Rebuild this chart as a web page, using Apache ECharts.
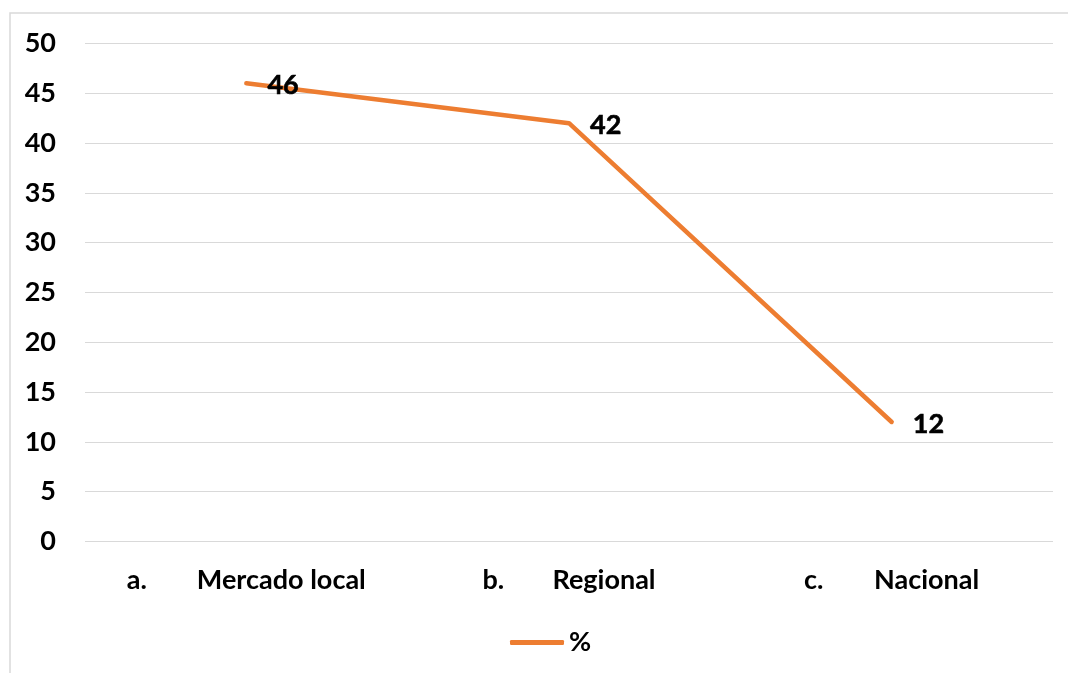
<!DOCTYPE html>
<html>
<head>
<meta charset="utf-8">
<script src="https://cdn.jsdelivr.net/npm/echarts@6/dist/echarts.min.js"></script>
<style>
  html, body { margin: 0; padding: 0; background: #fff; }
  #chart { width: 1068px; height: 673px; }
</style>
</head>
<body>
<div id="chart"></div>
<script>
// Category prefixes and names, shown as "a.   Mercado local"
const prefixes = ['a.', 'b.', 'c.'];
const names = ['Mercado local', 'Regional', 'Nacional'];
// Share of each market, in percent
const values = [46, 42, 12];
const seriesName = '%';
const yTicks = { min: 0, max: 50, interval: 5 };

const FONT = 'Lato, "Open Sans", sans-serif';
const FS = 27;
const ORANGE = '#ED7D31';
const chart = echarts.init(document.getElementById('chart'));

chart.setOption({
  backgroundColor: '#ffffff',
  animation: false,
  graphic: [{
    type: 'rect',
    shape: { x: 10, y: 13, width: 1200, height: 800 },
    style: { fill: 'none', stroke: '#d9d9d9', lineWidth: 1.5 },
    silent: true,
    z: -1
  }],
  grid: { left: 85, right: 15, top: 43.5, bottom: 131.5, containLabel: false },
  legend: {
    top: 624,
    left: 505,
    icon: 'roundRect',
    itemWidth: 54,
    itemHeight: 5,
    itemGap: 6,
    textStyle: { fontFamily: FONT, fontWeight: 700, fontSize: FS, color: '#000' },
    data: [{ name: seriesName, itemStyle: { color: ORANGE } }]
  },
  xAxis: {
    type: 'category',
    data: names.map((n, i) => prefixes[i] + '|' + n),
    boundaryGap: true,
    axisLine: { show: false },
    axisTick: { show: false },
    axisLabel: {
      margin: 25,
      formatter: v => {
        const [p, n] = v.split('|');
        return '{p|' + p + '}{n|' + n + '}';
      },
      rich: {
        p: { width: 70, align: 'left', fontFamily: FONT, fontWeight: 700, fontSize: FS, color: '#000' },
        n: { fontFamily: FONT, fontWeight: 700, fontSize: FS, color: '#000' }
      }
    }
  },
  yAxis: {
    type: 'value',
    min: yTicks.min,
    max: yTicks.max,
    interval: yTicks.interval,
    axisLine: { show: false },
    axisTick: { show: false },
    axisLabel: { margin: 29, fontFamily: FONT, fontWeight: 700, fontSize: FS, color: '#000' },
    splitLine: { lineStyle: { color: '#d9d9d9', width: 1 } }
  },
  series: [{
    name: seriesName,
    type: 'line',
    data: values,
    symbol: 'circle',
    symbolSize: 0.1,
    showSymbol: true,
    lineStyle: { color: ORANGE, width: 4.5, cap: 'round', join: 'round' },
    itemStyle: { color: ORANGE },
    label: {
      show: true,
      position: 'right',
      distance: 21,
      offset: [0, 2],
      fontFamily: FONT,
      fontWeight: 700,
      fontSize: FS,
      color: '#000',
      textBorderWidth: 0.6,
      textBorderColor: '#000'
    }
  }]
});
</script>
</body>
</html>
